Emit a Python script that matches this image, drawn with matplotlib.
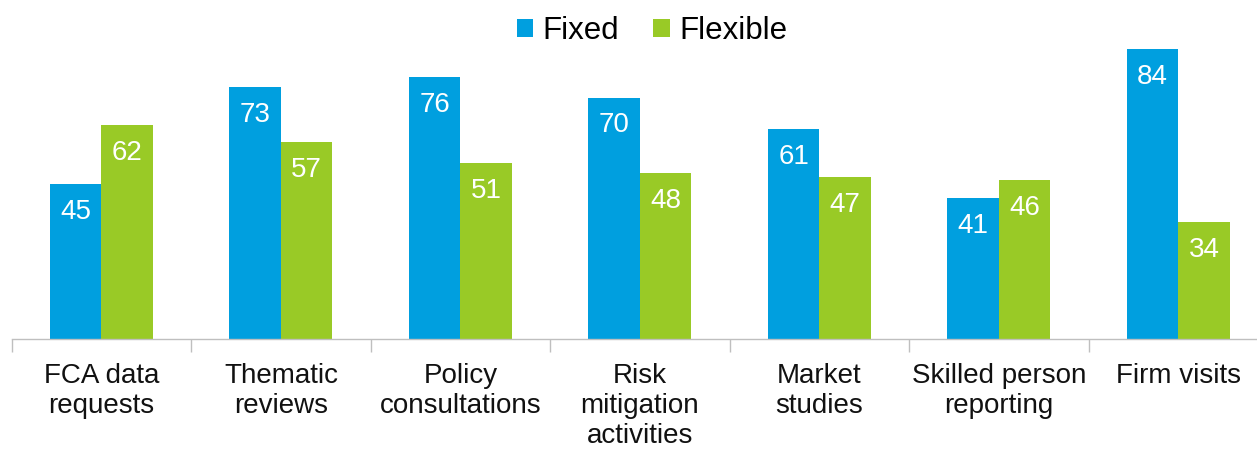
import matplotlib
matplotlib.use("Agg")
import matplotlib.pyplot as plt
import numpy as np

categories = ["FCA data\nrequests", "Thematic\nreviews", "Policy\nconsultations",
              "Risk\nmitigation\nactivities", "Market\nstudies",
              "Skilled person\nreporting", "Firm visits"]
fixed = [45, 73, 76, 70, 61, 41, 84]
flexible = [62, 57, 51, 48, 47, 46, 34]

plt.rcParams['font.family'] = ['Liberation Sans', 'DejaVu Sans']

BLUE = '#009FDF'
GREEN = '#99CA26'

W, H = 1257, 449
fig = plt.figure(figsize=(W / 100, H / 100), dpi=100)
px_per_unit = 3.45
ymax = 90
# axis spans slightly past the right edge so the last group sits near the border
ax = fig.add_axes([11.7 / W, 110 / H, 1256.5 / W, ymax * px_per_unit / H])

x = np.arange(len(categories))
w = 0.287
b1 = ax.bar(x - w / 2, fixed, w, color=BLUE, label='Fixed')
b2 = ax.bar(x + w / 2, flexible, w, color=GREEN, label='Flexible')

off = 28 / px_per_unit
for bars, vals in ((b1, fixed), (b2, flexible)):
    for r, v in zip(bars, vals):
        ax.text(r.get_x() + r.get_width() / 2, v - off, str(v), ha='center', va='center',
                color='white', fontsize=20)

ax.set_xlim(-0.5, len(categories) - 0.5)
ax.set_ylim(0, ymax)
ax.set_yticks([])
for s in ('top', 'right', 'left'):
    ax.spines[s].set_visible(False)
ax.spines['bottom'].set_color('#BFBFBF')
ax.spines['bottom'].set_linewidth(1.0)

ax.set_xticks(np.arange(len(categories) + 1) - 0.5, minor=True)
ax.set_xticks(x)
ax.set_xticklabels(categories, fontsize=20, color='#111111', linespacing=1.2, va='top')
ax.tick_params(axis='x', which='major', length=0, pad=17)
ax.tick_params(axis='x', which='minor', length=9, color='#BFBFBF', width=1.0)

fig.legend(handles=[b1, b2], labels=['Fixed', 'Flexible'], loc='center',
           bbox_to_anchor=(652 / W, 1 - 31 / H), ncol=2, frameon=False,
           fontsize=22.5, handlelength=0.52, handleheight=0.52, handletextpad=0.3,
           columnspacing=1.1)

fig.savefig('out.png', dpi=100)
